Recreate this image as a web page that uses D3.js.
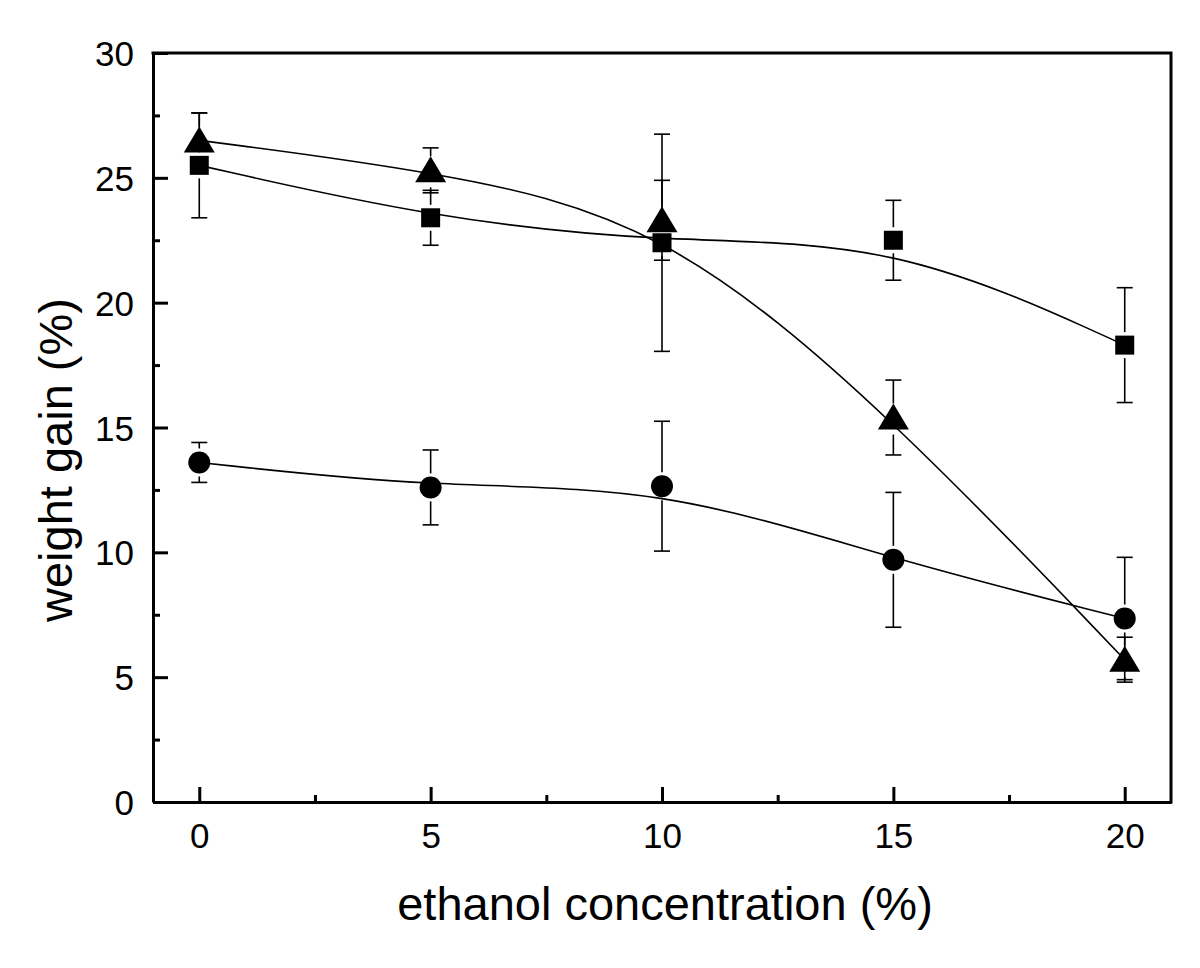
<!DOCTYPE html>
<html lang="en">
<head>
<meta charset="UTF-8">
<title>weight gain vs ethanol concentration</title>
<script src="https://cdn.jsdelivr.net/npm/d3@7"></script>
<style>
  body { margin: 0; background: #fff; }
  text { font-family: 'Liberation Sans', Arial, sans-serif; fill: #000; }
</style>
</head>
<body>
<div id="chart"></div>
<script>
// ethanol concentration (%)
var conc = [0, 5, 10, 15, 20];

// squares
var squareVals = [25.5, 23.4, 22.4, 22.5, 18.3];
var squareErr  = [2.1, 1.1, 4.35, 1.6, 2.3];
// triangles
var triVals = [26.5, 25.3, 23.3, 15.4, 5.7];
var triErr  = [1.1, 0.9, 1.6, 1.5, 0.9];
// circles
var circleVals = [13.6, 12.6, 12.65, 9.7, 7.35];
var circleErr  = [0.8, 1.5, 2.6, 2.7, 2.45];

var xTicks = [0, 5, 10, 15, 20];
var yTicks = [0, 5, 10, 15, 20, 25, 30];

var svg = d3.select("#chart")
  .append("svg")
  .attr("width", 1200)
  .attr("height", 968);

var x = d3.scaleLinear().domain([-1, 21]).range([153, 1171]);
var y = d3.scaleLinear().domain([0, 30]).range([802, 53]);

// minor ticks halfway between majors
var xMinor = d3.range(2.5, 20, 5);
var yMinor = d3.range(2.5, 30, 5);

// bottom axis, ticks pointing inside
var xAxis = svg.append("g")
  .attr("transform", "translate(0,802)")
  .call(d3.axisBottom(x).tickValues(xTicks).tickSize(-15).tickPadding(21).tickSizeOuter(0));
xAxis.selectAll(".tick text").attr("font-size", "35px").attr("dy", "0.71em");

svg.append("g")
  .attr("transform", "translate(0,802)")
  .call(d3.axisBottom(x).tickValues(xMinor).tickSize(-7).tickFormat("").tickSizeOuter(0))
  .select(".domain").remove();

// left axis
var yAxis = svg.append("g")
  .attr("transform", "translate(153,0)")
  .call(d3.axisLeft(y).tickValues(yTicks).tickSize(-15).tickPadding(19).tickSizeOuter(0));
yAxis.selectAll(".tick text").attr("font-size", "35px").attr("dy", "0.36em");

svg.append("g")
  .attr("transform", "translate(153,0)")
  .call(d3.axisLeft(y).tickValues(yMinor).tickSize(-7).tickFormat("").tickSizeOuter(0))
  .select(".domain").remove();

svg.selectAll(".domain, .tick line").attr("stroke", "#000").attr("stroke-width", 3);

// top and right frame
svg.append("path")
  .attr("d", "M" + x(-1) + "," + y(30) + "H" + x(21) + "V" + y(0))
  .attr("fill", "none")
  .attr("stroke", "#000")
  .attr("stroke-width", 3)
  .attr("stroke-linecap", "square");

// axis titles
svg.append("text")
  .attr("x", 665)
  .attr("y", 920)
  .attr("text-anchor", "middle")
  .attr("font-size", "47px")
  .text("ethanol concentration (%)");

svg.append("text")
  .attr("transform", "translate(72,460) rotate(-90)")
  .attr("text-anchor", "middle")
  .attr("font-size", "47px")
  .text("weight gain (%)");

// B-spline connecting lines
var line = d3.line()
  .x(function(d, i) { return x(conc[i]); })
  .y(function(d) { return y(d); })
  .curve(d3.curveBasis);

[squareVals, triVals, circleVals].forEach(function(vals) {
  svg.append("path")
    .attr("d", line(vals))
    .attr("fill", "none")
    .attr("stroke", "#000")
    .attr("stroke-width", 1.6);
});

// error bars, drawn outward from the marker edge
function errorBars(vals, errs, gapTop, gapBot) {
  var g = svg.append("g").attr("stroke", "#000").attr("stroke-width", 1.6);
  vals.forEach(function(v, i) {
    var cx = x(conc[i]), cy = y(v);
    var yt = y(v + errs[i]), yb = y(v - errs[i]);
    if (cy - gapTop > yt) {
      g.append("line").attr("x1", cx).attr("x2", cx).attr("y1", yt).attr("y2", cy - gapTop);
      g.append("line").attr("x1", cx - 8).attr("x2", cx + 8).attr("y1", yt).attr("y2", yt);
    }
    if (cy + gapBot < yb) {
      g.append("line").attr("x1", cx).attr("x2", cx).attr("y1", cy + gapBot).attr("y2", yb);
      g.append("line").attr("x1", cx - 8).attr("x2", cx + 8).attr("y1", yb).attr("y2", yb);
    }
  });
}
errorBars(squareVals, squareErr, 13, 13);
errorBars(triVals, triErr, 14, 17);
errorBars(circleVals, circleErr, 14, 14);

// markers
svg.append("g").selectAll("rect")
  .data(squareVals)
  .enter().append("rect")
  .attr("x", function(d, i) { return x(conc[i]) - 9.5; })
  .attr("y", function(d) { return y(d) - 9.5; })
  .attr("width", 19)
  .attr("height", 19)
  .attr("fill", "#000");

svg.append("g").selectAll("path")
  .data(triVals)
  .enter().append("path")
  .attr("d", function(d, i) {
    var cx = x(conc[i]), cy = y(d);
    return "M" + cx + "," + (cy - 14) + "L" + (cx + 15.5) + "," + (cy + 12) + "L" + (cx - 15.5) + "," + (cy + 12) + "Z";
  })
  .attr("fill", "#000");

svg.append("g").selectAll("circle")
  .data(circleVals)
  .enter().append("circle")
  .attr("cx", function(d, i) { return x(conc[i]); })
  .attr("cy", function(d) { return y(d); })
  .attr("r", 11)
  .attr("fill", "#000");
</script>
</body>
</html>
